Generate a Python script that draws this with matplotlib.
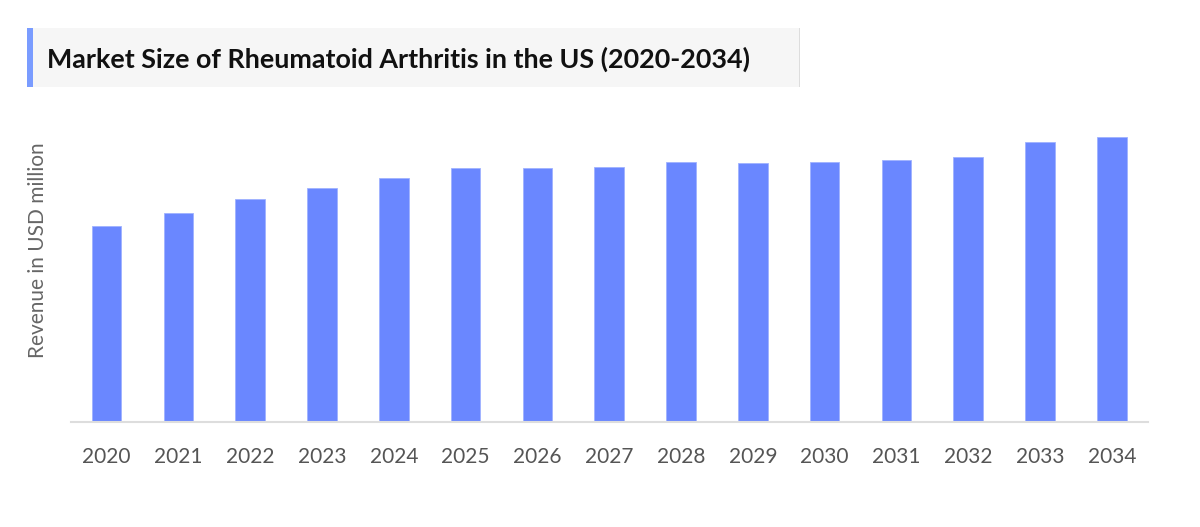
import matplotlib.pyplot as plt
from matplotlib.patches import Rectangle

years = ['2020', '2021', '2022', '2023', '2024', '2025', '2026', '2027',
         '2028', '2029', '2030', '2031', '2032', '2033', '2034']
# relative revenue (no y scale shown)
revenue = [19.6, 20.9, 22.3, 23.4, 24.4, 25.4, 25.4, 25.5,
           26.0, 25.9, 26.0, 26.2, 26.5, 28.0, 28.5]

title = 'Market Size of Rheumatoid Arthritis in the US (2020-2034)'
ylabel = 'Revenue in USD million'

plt.rcParams['font.family'] = ['Lato', 'DejaVu Sans']

fig = plt.figure(figsize=(12, 5.27), dpi=100)
W, H = 1200, 527

# title box
fig.patches.append(Rectangle((27 / W, 1 - 87 / H), (800 - 27) / W, (87 - 28) / H,
                             transform=fig.transFigure, facecolor='#f6f6f6',
                             edgecolor='none', zorder=0))
fig.patches.append(Rectangle((799 / W, 1 - 87 / H), 1.2 / W, (87 - 28) / H,
                             transform=fig.transFigure, facecolor='#dddddd',
                             edgecolor='none', zorder=1))
fig.patches.append(Rectangle((27 / W, 1 - 87 / H), 6 / W, (87 - 28) / H,
                             transform=fig.transFigure, facecolor='#7a9cff',
                             edgecolor='none', zorder=1))
fig.text(47 / W, 1 - 59 / H, title, fontsize=19.4, fontweight='bold',
         color='#111111', va='center', ha='left')

ax = fig.add_axes([70.7 / W, 1 - 421.7 / H, (1147.7 - 70.7) / W, (421.7 - 120) / H])
x = range(len(years))
ax.bar(x, revenue, width=0.41, color='#6a87ff', edgecolor='#9fb2ff', linewidth=0.6)
ax.set_xlim(-0.5, len(years) - 0.5)
ax.set_ylim(0, 30.17)
ax.set_xticks(list(x))
ax.set_xticklabels(years, fontsize=15, color='#555555')
ax.tick_params(axis='x', length=0, pad=18)
ax.set_yticks([])
for s in ['top', 'right', 'left']:
    ax.spines[s].set_visible(False)
ax.spines['bottom'].set_color('#dddddd')
ax.spines['bottom'].set_linewidth(1.5)

fig.text(38.5 / W, 1 - 250 / H, ylabel, rotation=90, fontsize=15,
         color='#666666', va='center', ha='center')

fig.savefig('out.png', dpi=100, facecolor='white')
